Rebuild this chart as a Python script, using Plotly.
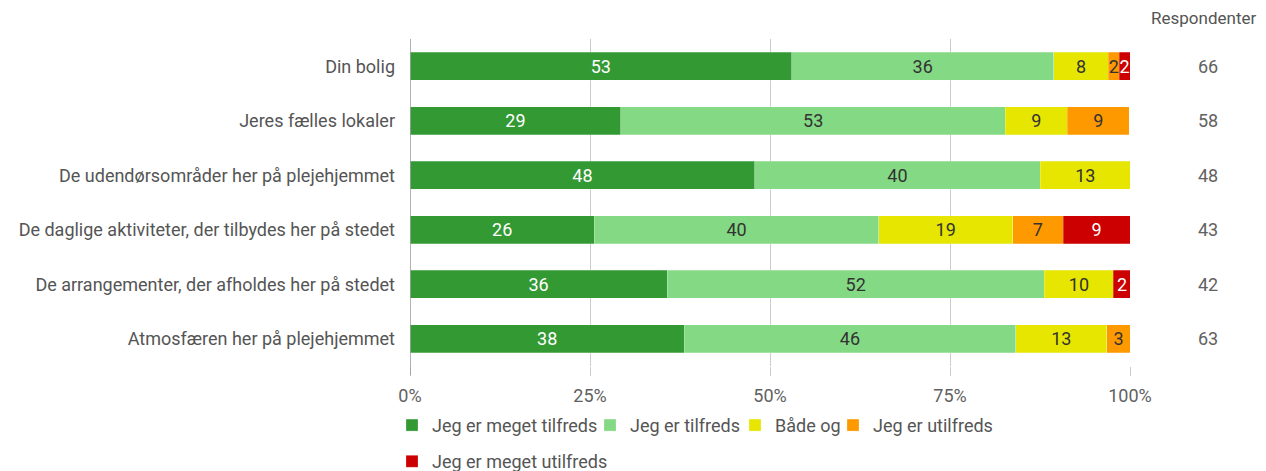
import plotly.graph_objects as go

categories = [
    "Din bolig",
    "Jeres fælles lokaler",
    "De udendørsområder her på plejehjemmet",
    "De daglige aktiviteter, der tilbydes her på stedet",
    "De arrangementer, der afholdes her på stedet",
    "Atmosfæren her på plejehjemmet",
]
respondenter = [66, 58, 48, 43, 42, 63]

series_names = [
    "Jeg er meget tilfreds",
    "Jeg er tilfreds",
    "Både og",
    "Jeg er utilfreds",
    "Jeg er meget utilfreds",
]
meget_tilfreds = [53.0, 29.3, 47.9, 25.6, 35.7, 38.1]
tilfreds = [36.4, 53.4, 39.6, 39.5, 52.4, 46.0]
baade_og = [7.6, 8.6, 12.6, 18.6, 9.6, 12.7]
utilfreds = [1.5, 8.6, None, 7.0, None, 3.2]
meget_utilfreds = [1.5, None, None, 9.3, 2.4, None]

x_ticks = [0, 25, 50, 75, 100]
x_tick_labels = ["0%", "25%", "50%", "75%", "100%"]

colors = ["#339933", "#84d984", "#e6e600", "#ff9900", "#cc0000"]
text_colors = ["#ffffff", "#333333", "#333333", "#333333", "#ffffff"]
all_series = [meget_tilfreds, tilfreds, baade_og, utilfreds, meget_utilfreds]

FONT = "Roboto, Arial, sans-serif"
FS = 18

legend_ids = ["legend", "legend2", "legend3", "legend4", "legend5"]
legend_x = [-0.025, 0.25, 0.4514, 0.5875, -0.025]
legend_y = [-0.125, -0.125, -0.125, -0.125, -0.236]

fig = go.Figure()
for i, (name, vals) in enumerate(zip(series_names, all_series)):
    fig.add_trace(go.Bar(
        y=categories, x=vals, name=name, orientation="h",
        marker=dict(color=colors[i], line=dict(color="rgba(255,255,255,0.5)", width=0.5)),
        texttemplate="%{x:.0f}", textposition="inside", insidetextanchor="middle",
        textfont=dict(color=text_colors[i], size=FS, family=FONT),
        legend=legend_ids[i],
        hoverinfo="skip",
    ))

for cat, n in zip(categories, respondenter):
    fig.add_annotation(x=1.108, xref="paper", y=cat, yref="y", text=str(n),
                       xanchor="center", yanchor="middle",
                       showarrow=False, font=dict(size=FS, color="#616161", family=FONT))
fig.add_annotation(x=1.1014, xref="paper", y=1.064, yref="paper", text="Respondenter",
                   xanchor="center", yanchor="middle",
                   showarrow=False, font=dict(size=17, color="#555555", family=FONT))

legend_layouts = {}
for lid, lx, ly in zip(legend_ids, legend_x, legend_y):
    legend_layouts[lid] = dict(orientation="h", x=lx, xanchor="left", y=ly, yanchor="top",
                               bgcolor="rgba(0,0,0,0)",
                               font=dict(size=FS, color="#555555", family=FONT))

fig.update_layout(
    width=1266, height=471,
    barmode="stack", bargap=0.486,
    plot_bgcolor="white", paper_bgcolor="white",
    margin=dict(l=402, r=144, t=31, b=113, autoexpand=False),
    font=dict(family=FONT, color="#555555"),
    uniformtext=dict(minsize=FS, mode="show"),
    xaxis=dict(range=[0, 100], tickvals=x_ticks, ticktext=x_tick_labels,
               showgrid=True, gridcolor="#cccccc", gridwidth=1,
               ticks="outside", ticklen=9, tickcolor="#cccccc",
               ticklabelstandoff=4,
               tickfont=dict(size=FS, color="#616161", family=FONT),
               zeroline=False, fixedrange=True, automargin=False),
    yaxis=dict(autorange="reversed", ticks="", ticklabelstandoff=14,
               tickfont=dict(size=FS, color="#555555", family=FONT),
               showline=False, showgrid=False, automargin=False),
    showlegend=True,
    **legend_layouts,
)
fig.add_shape(type="line", xref="x", yref="paper", x0=0, x1=0, y0=-0.028, y1=1,
              line=dict(color="#999999", width=1.5))

fig.write_html("out.html")
